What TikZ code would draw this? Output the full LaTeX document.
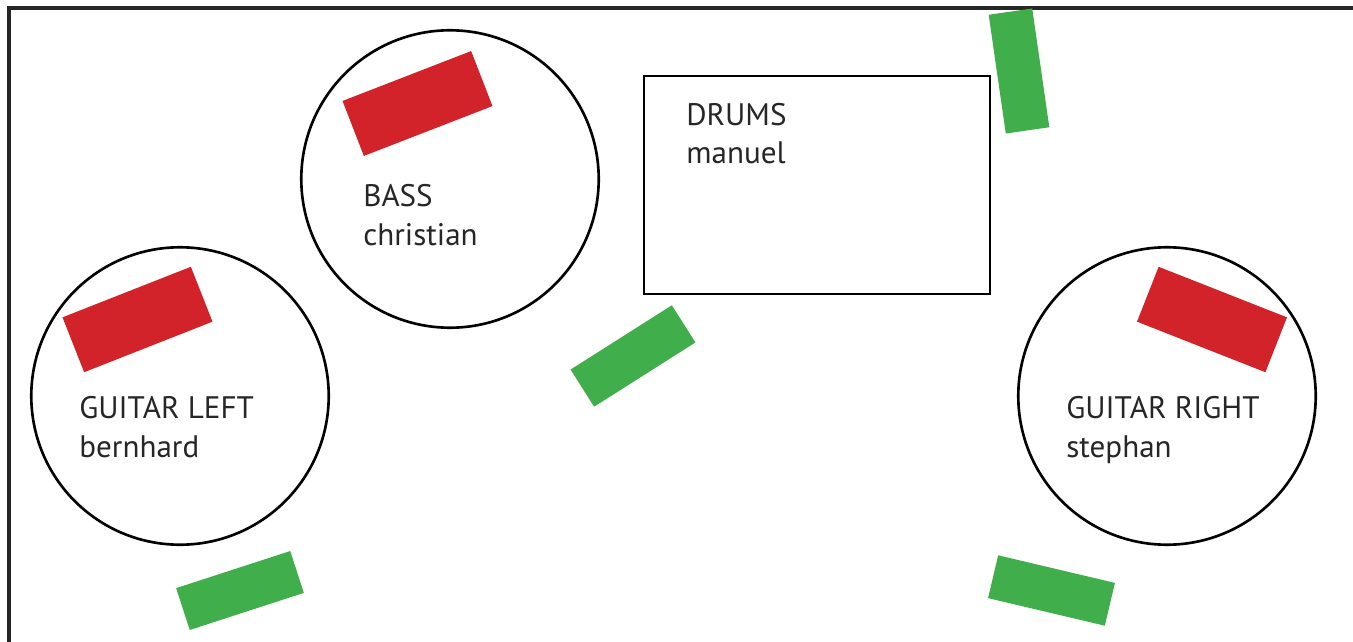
\documentclass[tikz,border=0pt]{standalone}
\usepackage{fontspec}
\setmainfont{PT Sans}
\usetikzlibrary{positioning}

\definecolor{ampred}{HTML}{D2232A}
\definecolor{monigreen}{HTML}{40AE4A}

\begin{document}
\begin{tikzpicture}[x=0.02cm, y=-0.02cm,
		spot/.style={draw, line width=1.5pt, circle, minimum size=5.95cm},
		amp/.style={fill=ampred, inner sep=0, minimum width=2.76cm, minimum height=1.18cm},
		monitor/.style={fill=monigreen, inner sep=0, minimum width=2.4cm, minimum height=0.88cm},
		player/.style={anchor=base west, inner sep=0, align=left, font=\fontsize{17.7}{22.1}\selectfont, text=black!85}]
	\useasboundingbox (0,0) rectangle (1353,642);
	\draw[line width=2pt, black!85] (9,642) -- (9,8) -- (1353,8);
	
%	players
	\node (gleft) [spot] at (180,396) {};
	\node (bass) [spot] at (450,179) {};
	\node (gright) [spot] at (1167,396) {};
	\node (drums) [draw, line width=1.5pt, minimum width=6.92cm, minimum height=4.36cm] at (817,185) {};
	
	\node (gleftname) [player] at (79,457) {GUITAR LEFT\\ bernhard};
	\node (bassname) [player] at (363,245) {BASS\\ christian};
	\node (drumsname) [player] at (686,164) {DRUMS\\ manuel};
	\node (grightname) [player] at (1066,457) {GUITAR RIGHT\\ stephan};
	
%	amps
	\node (gleftamp) [amp, rotate=21.5] at (137.5,319.5) {};
	\node (bassamp) [amp, rotate=21.2] at (417.5,103.5) {};
	\node (grightamp) [amp, rotate=-21.5] at (1212,319.5) {};
	
%	monitors
	\node (mon1) [monitor, rotate=98.2] at (1019,71) {};
	\node (mon2) [monitor, rotate=32.4] at (633,356) {};
	\node (mon3) [monitor, rotate=18] at (240,590.5) {};
	\node (mon4) [monitor, rotate=-13.3] at (1051.5,590.5) {};
\end{tikzpicture}
\end{document}
